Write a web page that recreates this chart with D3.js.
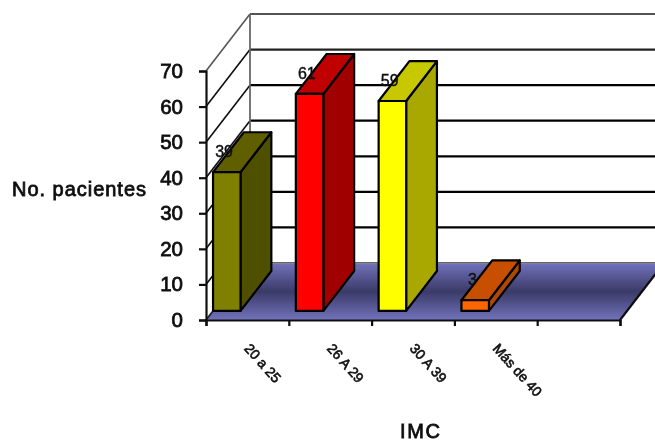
<!DOCTYPE html>
<html>
<head>
<meta charset="utf-8">
<script src="https://cdn.jsdelivr.net/npm/d3@7"></script>
<style>
html, body { margin: 0; background: #fff; }
svg { display: block; }
text { font-family: "Liberation Sans", Arial, sans-serif; fill: #111; }
</style>
</head>
<body>
<div id="chart"></div>
<script>
const categories = ['20 a 25', '26 A 29', '30 A 39', 'Más de 40'];
const values = [39, 61, 59, 3];
const slots = [...categories, ''];
const yTicks = [0, 10, 20, 30, 40, 50, 60, 70];
const frontColors = ['#808000', '#ff0000', '#ffff00', '#ff6600'];
const topColors = ['#5f5f00', '#c00000', '#c8c800', '#c85000'];
const sideColors = ['#4f4f00', '#a00000', '#a8a800', '#b04800'];

const width = 655, height = 441;
const wall = { dx: 44, dy: -57 };          // floor depth in pixels
const barStart = 0.16, barDepth = 0.7;     // share of floor depth
const barWidth = 27.5;

const svg = d3.select('#chart').append('svg')
    .attr('width', width)
    .attr('height', height);

const defs = svg.append('defs');
defs.append('filter').attr('id', 'soft')
    .append('feGaussianBlur').attr('stdDeviation', 0.45);
const grad = defs.append('linearGradient').attr('id', 'floor')
    .attr('x1', 0).attr('y1', 0).attr('x2', 0).attr('y2', 1);
grad.append('stop').attr('offset', '0%').attr('stop-color', '#7272bc');
grad.append('stop').attr('offset', '50%').attr('stop-color', '#3a3a68');
grad.append('stop').attr('offset', '100%').attr('stop-color', '#7272bc');

const root = svg.append('g').attr('filter', 'url(#soft)');

const xEdge = d3.scaleLinear().domain([0, slots.length]).range([206, 620]);
const x = d3.scaleBand().domain(slots).range([206, 620]);
const y = d3.scaleLinear().domain([0, 70]).range([320, 71]);

const poly = pts => 'M' + pts.map(p => p.join(',')).join('L') + 'Z';
const shift = (p, t) => [p[0] + wall.dx * t, p[1] + wall.dy * t];
const heavy = sel => sel.attr('stroke', '#111').attr('stroke-width', 0.8);

// back wall grid
yTicks.forEach(t => {
    const front = [xEdge.range()[0], y(t)];
    const back = shift(front, 1);
    const c = t >= 70 ? '#555' : (t >= 60 ? '#222' : '#000');
    if (t > 0) {
        root.append('line').attr('x1', front[0]).attr('y1', front[1])
            .attr('x2', back[0]).attr('y2', back[1])
            .attr('stroke', t >= 70 ? '#555' : '#111').attr('stroke-width', 1.6);
    }
    root.append('line').attr('x1', back[0]).attr('y1', back[1])
        .attr('x2', width + 5).attr('y2', back[1])
        .attr('stroke', c).attr('stroke-width', 2.2);
});
root.append('line')
    .attr('x1', xEdge(0) + wall.dx).attr('x2', xEdge(0) + wall.dx)
    .attr('y1', y(70) + wall.dy).attr('y2', y(0) + wall.dy)
    .attr('stroke', '#666').attr('stroke-width', 1.8);

// floor
const fl = [[xEdge(0), y(0)], [xEdge(5), y(0)], shift([xEdge(5), y(0)], 1), shift([xEdge(0), y(0)], 1)];
root.append('path').attr('d', poly(fl)).attr('fill', 'url(#floor)');
root.append('line').attr('x1', fl[3][0]).attr('y1', fl[3][1]).attr('x2', width + 5).attr('y2', fl[3][1])
    .attr('stroke', '#888').attr('stroke-width', 1.5);
root.append('line').attr('x1', fl[0][0]).attr('y1', fl[0][1]).attr('x2', fl[3][0]).attr('y2', fl[3][1])
    .attr('stroke', '#222').attr('stroke-width', 1.8);
root.append('line').attr('x1', fl[1][0]).attr('y1', fl[1][1]).attr('x2', fl[2][0]).attr('y2', fl[2][1])
    .attr('stroke', '#111').attr('stroke-width', 2.2);

// axes
const yAxis = root.append('g').attr('transform', `translate(${xEdge(0)},0)`)
    .call(d3.axisLeft(y).tickValues(yTicks).tickSize(7).tickPadding(16));
const xAxis = root.append('g').attr('transform', `translate(0,${y(0)})`)
    .call(d3.axisBottom(xEdge).ticks(slots.length).tickSize(6).tickFormat(''));
[yAxis, xAxis].forEach(a => a.selectAll('path, line').attr('stroke', '#111').attr('stroke-width', 2.2));
yAxis.selectAll('text').call(heavy)
    .style('font-size', '20.5px')
    .style('font-family', '"Liberation Sans", Arial, sans-serif');

// bars
const bars = root.selectAll('.bar')
    .data(categories.map((c, i) => ({ c, v: values[i], i })))
    .enter().append('g').attr('class', 'bar');

const corners = d => {
    const x0 = x(d.c) + wall.dx * barStart, x1 = x0 + barWidth;
    const yb = y(0) + wall.dy * barStart;
    const yt = yb - (y(0) - y(d.v));
    return { x0, x1, yb, yt };
};
const barStroke = sel => sel.attr('stroke', '#000').attr('stroke-width', 2.2).attr('stroke-linejoin', 'round');

bars.append('path').call(barStroke)
    .attr('fill', d => sideColors[d.i])
    .attr('d', d => {
        const k = corners(d);
        return poly([[k.x1, k.yb], [k.x1, k.yt], shift([k.x1, k.yt], barDepth), shift([k.x1, k.yb], barDepth)]);
    });
bars.append('path').call(barStroke)
    .attr('fill', d => topColors[d.i])
    .attr('d', d => {
        const k = corners(d);
        return poly([[k.x0, k.yt], [k.x1, k.yt], shift([k.x1, k.yt], barDepth), shift([k.x0, k.yt], barDepth)]);
    });
bars.append('path').call(barStroke)
    .attr('fill', d => frontColors[d.i])
    .attr('d', d => {
        const k = corners(d);
        return poly([[k.x0, k.yb], [k.x1, k.yb], [k.x1, k.yt], [k.x0, k.yt]]);
    });

// data labels sit up the top face of each bar
bars.append('text')
    .attr('x', d => corners(d).x0 + 11)
    .attr('y', d => corners(d).yt - 15)
    .attr('text-anchor', 'middle')
    .attr('stroke', '#111').attr('stroke-width', 0.4)
    .style('font-size', '16px')
    .text(d => d.v);

// category labels
root.selectAll('.cat')
    .data(categories)
    .enter().append('text')
    .attr('class', 'cat')
    .call(heavy)
    .attr('stroke-width', 0.6)
    .attr('transform', c => `translate(${x(c) + 37.5},349) rotate(48)`)
    .style('font-size', '14px')
    .text(c => c);

root.append('text').attr('x', 12).attr('y', 196)
    .call(heavy)
    .attr('textLength', 134).attr('lengthAdjust', 'spacing')
    .style('font-size', '20px')
    .text('No. pacientes');
root.append('text').attr('x', 400).attr('y', 438)
    .call(heavy)
    .attr('textLength', 40).attr('lengthAdjust', 'spacing')
    .style('font-size', '20px')
    .text('IMC');
</script>
</body>
</html>
